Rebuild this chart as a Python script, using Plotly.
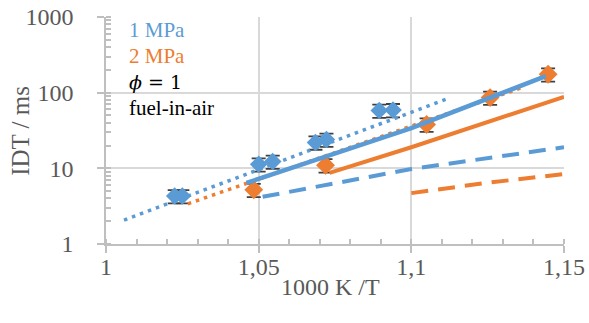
import plotly.graph_objects as go

# ---- data ----
blue_x = [1.0225, 1.025, 1.050, 1.0546, 1.0686, 1.0722, 1.0895, 1.094]
blue_y = [4.3, 4.3, 11.3, 12.3, 22.0, 24.0, 58.0, 59.0]
orange_x = [1.0484, 1.0719, 1.105, 1.1258, 1.1448]
orange_y = [5.2, 11.0, 38.0, 86.0, 175.0]
err_pct = 20

blue_dot_x = [1.0059, 1.1124]
blue_dot_y = [2.07, 85.0]
orange_dot_x = [1.0268, 1.1366]
orange_dot_y = [3.4, 118.0]
blue_solid_x = [1.046, 1.10, 1.144]
blue_solid_y = [6.4, 34.0, 165.0]
orange_solid_x = [1.0732, 1.10, 1.15]
orange_solid_y = [8.7, 19.0, 88.0]
blue_dash_x = [1.0513, 1.10, 1.15]
blue_dash_y = [4.2, 9.8, 19.0]
orange_dash_x = [1.1, 1.125, 1.15]
orange_dash_y = [4.7, 6.45, 8.4]

x_ticks = [1.0, 1.05, 1.1, 1.15]
x_ticktext = ["1", "1,05", "1,1", "1,15"]
y_ticks = [1, 10, 100, 1000]
y_ticktext = ["1", "10", "100", "1000"]

BLUE = "#5B9BD5"
ORANGE = "#ED7D31"
SERIF = "Liberation Serif"
ERR = "#404040"
GREY = "#595959"

fig = go.Figure()

def line(x, y, color, dash, width):
    fig.add_trace(go.Scatter(x=x, y=y, mode="lines",
                             line=dict(color=color, width=width, dash=dash),
                             hoverinfo="skip"))

fig.add_trace(go.Scatter(
    x=blue_x, y=blue_y, mode="markers",
    marker=dict(symbol="diamond", size=13.5, color=BLUE),
    error_y=dict(type="percent", value=err_pct, color=ERR, thickness=1.8, width=7)))
fig.add_trace(go.Scatter(
    x=orange_x, y=orange_y, mode="markers",
    marker=dict(symbol="diamond", size=14.5, color=ORANGE),
    error_y=dict(type="percent", value=err_pct, color=ERR, thickness=1.8, width=7)))

line(blue_dot_x, blue_dot_y, BLUE, "3.5px,5px", 3.5)
line(orange_dot_x, orange_dot_y, ORANGE, "3.5px,5px", 3.5)
line(blue_dash_x, blue_dash_y, BLUE, "17px,10px", 4)
line(orange_dash_x, orange_dash_y, ORANGE, "17px,10px", 4)
line(orange_solid_x, orange_solid_y, ORANGE, "solid", 4)
line(blue_solid_x, blue_solid_y, BLUE, "solid", 4.5)

ann = [
    ("1 MPa", BLUE, 0.943, SERIF),
    ("2 MPa", ORANGE, 0.828, SERIF),
    ("<i>ϕ</i> = 1", "#000000", 0.714, "DejaVu Serif"),
    ("fuel-in-air", "#000000", 0.599, SERIF),
]
for txt, col, yp, fam in ann:
    fig.add_annotation(text=txt, x=0.046, y=yp, xref="paper", yref="paper",
                       xanchor="left", yanchor="middle", showarrow=False,
                       font=dict(family=fam, size=21 if fam == SERIF else 19, color=col))

# axis titles
fig.add_annotation(text="1000 K /T", x=0.491, y=-0.189, xref="paper", yref="paper",
                   xanchor="center", yanchor="middle", showarrow=False,
                   font=dict(family=SERIF, size=24, color=GREY))
fig.add_annotation(text="IDT / ms", x=-0.187, y=0.5, xref="paper", yref="paper",
                   xanchor="center", yanchor="middle", showarrow=False, textangle=-90,
                   font=dict(family=SERIF, size=25, color=GREY))

fig.update_layout(
    width=589, height=323,
    margin=dict(l=106, r=25, t=17, b=79, autoexpand=False),
    paper_bgcolor="white", plot_bgcolor="white",
    showlegend=False,
    font=dict(family=SERIF, color=GREY, size=24),
    xaxis=dict(range=[1.0, 1.15], tickvals=x_ticks, ticktext=x_ticktext,
               automargin=False, ticklabeloverflow="allow",
               showgrid=True, gridcolor="#D9D9D9", gridwidth=1.5,
               showline=True, linecolor="#BFBFBF", linewidth=1.5,
               ticks="outside", ticklen=7, tickcolor="#BFBFBF", tickwidth=1.5,
               minor=dict(dtick=0.01, ticks="inside", ticklen=5,
                          tickcolor="#BFBFBF", tickwidth=1.5, showgrid=False),
               tickfont=dict(family=SERIF, size=24, color=GREY),
               ticklabelstandoff=-7,
               zeroline=False),
    yaxis=dict(type="log", range=[0, 3], tickvals=y_ticks, ticktext=y_ticktext,
               automargin=False, ticklabeloverflow="allow",
               showgrid=True, gridcolor="#D9D9D9", gridwidth=1.5,
               showline=True, linecolor="#BFBFBF", linewidth=1.5,
               ticks="outside", ticklen=7, tickcolor="#BFBFBF", tickwidth=1.5,
               minor=dict(dtick="D1", ticks="inside", ticklen=5,
                          tickcolor="#BFBFBF", tickwidth=1.5, showgrid=False),
               tickfont=dict(family=SERIF, size=24, color=GREY),
               ticklabelstandoff=19,
               zeroline=False),
)

# remove the default 8px page margin so the 589x323 figure fills the window
fig.write_html("out.html", config={"displayModeBar": False},
               post_script="document.body.style.margin='0';")
